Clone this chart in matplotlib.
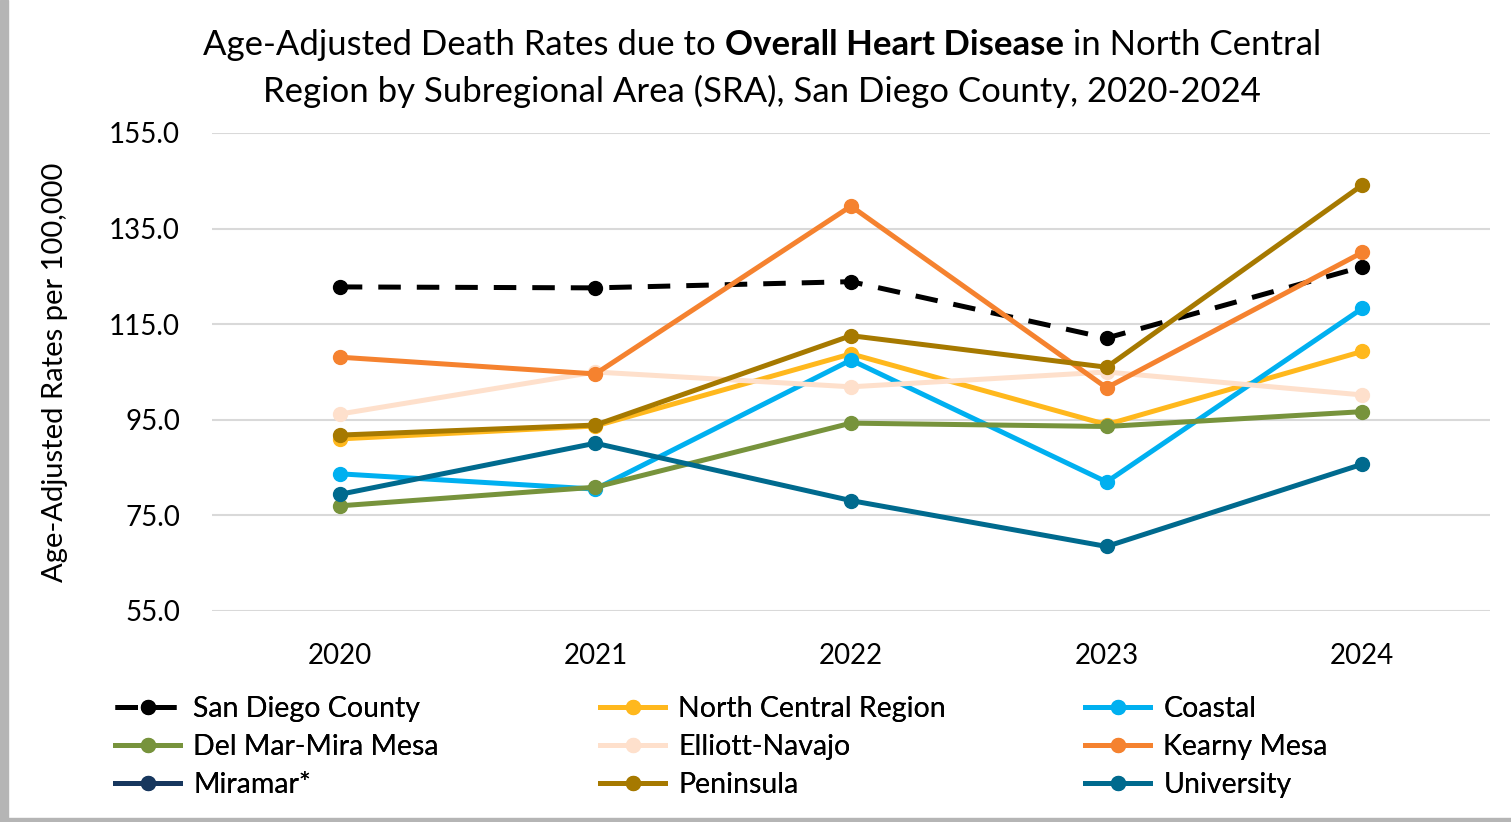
import numpy as np
import matplotlib
matplotlib.use('Agg')
import matplotlib.pyplot as plt
from matplotlib.patches import Rectangle

plt.rcParams['font.family'] = ['Lato', 'DejaVu Sans']

years = ['2020', '2021', '2022', '2023', '2024']

san_diego = [122.8, 122.6, 123.9, 112.1, 127.0]
north_central = [91.0, 93.7, 108.8, 94.0, 109.3]
coastal = [83.7, 80.5, 107.5, 82.0, 118.3]
del_mar = [77.0, 80.9, 94.3, 93.6, 96.7]
elliott = [96.2, 105.0, 101.9, 105.0, 100.2]
kearny = [108.1, 104.6, 139.7, 101.7, 130.0]
miramar = [np.nan] * 5   # suppressed, only in legend
peninsula = [91.8, 93.9, 112.6, 106.0, 144.1]
university = [79.4, 90.1, 78.1, 68.5, 85.7]

series = [
    ('San Diego County', san_diego, 'black'),
    ('North Central Region', north_central, '#FFB81D'),
    ('Coastal', coastal, '#00B0F0'),
    ('Del Mar-Mira Mesa', del_mar, '#77933C'),
    ('Elliott-Navajo', elliott, '#FEE0CC'),
    ('Kearny Mesa', kearny, '#F5822F'),
    ('Miramar*', miramar, '#17375E'),
    ('Peninsula', peninsula, '#A67900'),
    ('University', university, '#006A8E'),
]

fig = plt.figure(figsize=(15.11, 8.22), dpi=100)
ax = fig.add_axes([0.1403, 0.2567, 0.8458, 0.5815])

x = np.arange(len(years))
handles = {}
for name, vals, col in series:
    if name == 'San Diego County':
        ln, = ax.plot(x, vals, color=col, lw=3.6, ls=(0, (4.5, 3.2)),
                      marker='o', ms=10, label=name)
    else:
        ln, = ax.plot(x, vals, color=col, lw=3.6, marker='o', ms=10,
                      label=name)
    handles[name] = ln

ax.set_xlim(-0.5, 4.5)
ax.set_ylim(55, 155)
ax.set_yticks(np.arange(55, 156, 20))
ax.set_yticklabels(['{:.1f}'.format(v) for v in np.arange(55, 156, 20)])
ax.set_xticks(x)
ax.set_xticklabels(years)
ax.tick_params(axis='both', length=0, labelsize=20)
ax.tick_params(axis='x', pad=23)
ax.tick_params(axis='y', pad=23)
ax.grid(axis='y', color='#D9D9D9', lw=1.5)
ax.set_axisbelow(True)
for s in ax.spines.values():
    s.set_visible(False)

ax.set_ylabel('Age-Adjusted Rates per 100,000', fontsize=21)
ax.yaxis.set_label_coords(-0.113, 0.5)

# title, first line in three pieces so the middle can be bold
fs = 25
pieces = [('Age-Adjusted Death Rates due to ', 'normal'),
          ('Overall Heart Disease', 'bold'),
          (' in North Central', 'normal')]
r = fig.canvas.get_renderer()
txts = []
for s, w in pieces:
    t = fig.text(0, 0.945, s, fontsize=fs, fontweight=w, va='center')
    txts.append(t)
widths = [t.get_window_extent(r).width for t in txts]
start = 0.5045 * fig.bbox.width - sum(widths) / 2
for t, w in zip(txts, widths):
    t.set_x(start / fig.bbox.width)
    start += w
fig.text(0.5045, 0.889,
         'Region by Subregional Area (SRA), San Diego County, 2020-2024',
         ha='center', va='center', fontsize=fs)

# legend: one legend per column so the columns sit at even spacing
columns = [['San Diego County', 'Del Mar-Mira Mesa', 'Miramar*'],
           ['North Central Region', 'Elliott-Navajo', 'Peninsula'],
           ['Coastal', 'Kearny Mesa', 'University']]
col_x = [0.0761, 0.397, 0.718]
for names, cx in zip(columns, col_x):
    leg = fig.legend([handles[n] for n in names], names,
                     loc='upper left', bbox_to_anchor=(cx, 0.153),
                     frameon=False, fontsize=20.5, handlelength=2.3,
                     handletextpad=0.45, labelspacing=0.42,
                     borderpad=0, borderaxespad=0)
    fig.add_artist(leg)

# frame shadow
fig.patches.append(Rectangle((0, 0), 0.005, 1, transform=fig.transFigure,
                             color='#B5B5B5', zorder=0))
fig.patches.append(Rectangle((0, 0), 1, 0.005, transform=fig.transFigure,
                             color='#B5B5B5', zorder=0))

fig.savefig('out.png', dpi=100)
